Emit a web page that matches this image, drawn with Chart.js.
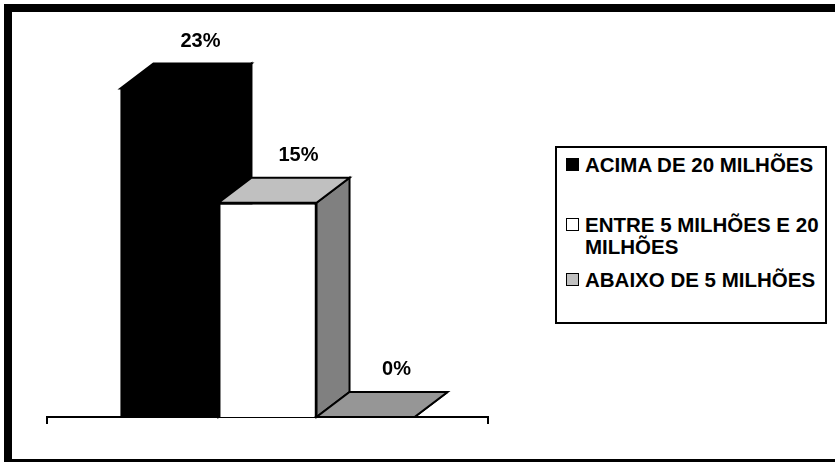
<!DOCTYPE html>
<html>
<head>
<meta charset="utf-8">
<script src="https://cdn.jsdelivr.net/npm/chart.js@4.4.0/dist/chart.umd.min.js"></script>
<style>
    html, body { margin: 0; padding: 0; background: #fff; overflow: hidden; }
    body { width: 835px; height: 462px; position: relative; font-family: 'Liberation Sans', Arial, sans-serif; }
    #moldura { position: absolute; left: 4px; top: 4px; width: 900px; height: 447px; border: 8px solid #000; }
    #grafico { position: absolute; left: 0; top: 0; }
    #legenda { position: absolute; left: 555px; top: 146px; width: 272px; height: 178px; box-sizing: border-box; border: 2px solid #000; background: #fff; }
    .item { position: absolute; left: 0; width: 266px; font-weight: bold; font-size: 20.5px; line-height: 22px; color: #000; }
    .item .marca { position: absolute; left: 9px; top: 4px; width: 11px; height: 11px; border: 1px solid #000; }
    .item .texto { margin-left: 28px; display: block; }
</style>
</head>
<body>
<div id="moldura"></div>
<canvas id="grafico" width="835" height="462"></canvas>
<div id="legenda"></div>

<script>
// --- DADOS DO GRÁFICO ---
const categorias = [''];
const faixas = ['ACIMA DE 20 MILHÕES', 'ENTRE 5 MILHÕES E 20 MILHÕES', 'ABAIXO DE 5 MILHÕES'];
const percentuais = [23, 15, 0];
const rotulos = ['23%', '15%', '0%'];

// cores: frente, topo e lateral de cada barra (efeito 3D)
const coresFrente = ['#000000', '#ffffff', '#c0c0c0'];
const coresTopo = ['#000000', '#c0c0c0', '#969696'];
const coresLado = ['#000000', '#808080', '#808080'];
const bordas = [0, 2, 2];

// profundidade do efeito 3D
const PROF_X = 33;
const PROF_Y = 25;

// Plugin que desenha topo e lateral antes das frentes das barras
const barras3D = {
    id: 'barras3D',
    beforeDatasetsDraw(chart) {
        const ctx = chart.ctx;
        ctx.save();
        ctx.lineWidth = 2;
        ctx.strokeStyle = '#000';
        ctx.lineJoin = 'miter';
        chart.data.datasets.forEach((ds, i) => {
            const bar = chart.getDatasetMeta(i).data[0];
            const esq = bar.x - bar.width / 2;
            const dir = bar.x + bar.width / 2;
            const topo = bar.y;
            const base = bar.base;

            // lateral
            ctx.beginPath();
            ctx.moveTo(dir, topo);
            ctx.lineTo(dir + PROF_X, topo - PROF_Y);
            ctx.lineTo(dir + PROF_X, base - PROF_Y);
            ctx.lineTo(dir, base);
            ctx.closePath();
            ctx.fillStyle = coresLado[i];
            ctx.fill();
            ctx.stroke();

            // topo
            ctx.beginPath();
            ctx.moveTo(esq, topo);
            ctx.lineTo(esq + PROF_X, topo - PROF_Y);
            ctx.lineTo(dir + PROF_X, topo - PROF_Y);
            ctx.lineTo(dir, topo);
            ctx.closePath();
            ctx.fillStyle = coresTopo[i];
            ctx.fill();
            ctx.stroke();
        });
        ctx.restore();
    },
    afterDatasetsDraw(chart) {
        // rótulos de valor acima das barras
        const ctx = chart.ctx;
        ctx.save();
        ctx.font = "bold 20px 'Liberation Sans', Arial, sans-serif";
        ctx.fillStyle = '#000';
        ctx.textAlign = 'center';
        ctx.textBaseline = 'alphabetic';
        chart.data.datasets.forEach((ds, i) => {
            const bar = chart.getDatasetMeta(i).data[0];
            ctx.fillText(rotulos[i], bar.x + PROF_X - 2, bar.y - PROF_Y - 17);
        });
        ctx.restore();
    }
};

const datasets = faixas.map((nome, i) => ({
    label: nome,
    data: [percentuais[i]],
    backgroundColor: coresFrente[i],
    borderColor: '#000',
    borderWidth: bordas[i],
    categoryPercentage: 0.667,
    barPercentage: 1
}));

const grafico = new Chart(document.getElementById('grafico'), {
    type: 'bar',
    data: { labels: categorias, datasets: datasets },
    options: {
        responsive: false,
        animation: false,
        layout: { padding: { left: 47, right: 347, top: 60, bottom: 38 } },
        scales: {
            x: {
                grid: { drawOnChartArea: false, offset: true, tickLength: 7, color: '#000', lineWidth: 2 },
                border: { display: true, color: '#000', width: 2 },
                ticks: { display: false }
            },
            y: { display: false, min: 0, max: 25 }
        },
        plugins: {
            legend: { display: false },
            tooltip: { enabled: false }
        }
    },
    plugins: [barras3D]
});

// --- LEGENDA EM HTML ---
const posicoesLegenda = [6, 66, 121];
const legenda = document.getElementById('legenda');
faixas.forEach((nome, i) => {
    const item = document.createElement('div');
    item.className = 'item';
    item.style.top = posicoesLegenda[i] + 'px';
    const marca = document.createElement('span');
    marca.className = 'marca';
    marca.style.background = coresFrente[i];
    const texto = document.createElement('span');
    texto.className = 'texto';
    texto.textContent = nome;
    item.appendChild(marca);
    item.appendChild(texto);
    legenda.appendChild(item);
});
</script>
</body>
</html>
